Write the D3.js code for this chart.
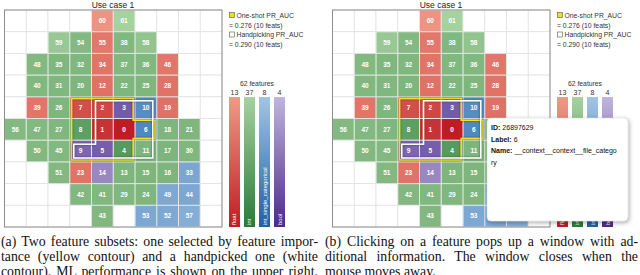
<!DOCTYPE html>
<html>
<head>
<meta charset="utf-8">
<script src="https://cdn.jsdelivr.net/npm/d3@7"></script>
<style>
body { margin: 0; background: #fff; }
svg { display: block; }
</style>
</head>
<body>
<script>
// feature ids laid out on the 10x10 grid (null = empty cell)
const gridIds = [
	[null, null, null, null, 60, 61, null, null, null, null],
	[null, null, 59, 54, 55, 38, 58, null, null, null],
	[null, 48, 35, 32, 34, 37, 36, 46, null, null],
	[null, 40, 31, 20, 12, 22, 25, 28, null, null],
	[null, 39, 26, 7, 2, 3, 10, 19, null, null],
	[56, 47, 27, 8, 1, 0, 6, 18, 21, null],
	[null, 50, 45, 9, 5, 4, 11, 17, 30, null],
	[null, null, 51, 23, 14, 13, 15, 16, 33, null],
	[null, null, null, 42, 41, 29, 24, 49, 44, null],
	[null, null, null, null, 43, null, 53, 52, 57, null]
];
const floatIds = [0, 1, 2, 7, 12, 19, 23, 28, 34, 39, 46, 55, 60];
const catIds = [6, 10, 33, 44, 49, 52, 53, 57];
const boolIds = [3, 5, 9, 14];
const typeNames = ['float', 'int', 'int_single_categorical', 'bool'];
const typeCounts = [13, 37, 8, 4];
const oneShotIds = [0, 1, 2, 3, 4, 5, 6, 7, 8, 9];
const handpickIds = [0, 1, 2, 3, 4, 5, 6, 9, 10, 11];
const legendLines = ['One-shot PR_AUC', '= 0.276 (10 feats)', 'Handpicking PR_AUC', '= 0.290 (10 feats)'];
const tooltipKeys = ['ID:', 'Label:', 'Name:', ''];
const tooltipValues = ['26897629', '6', '__context__context__file_catego', 'ry'];
const captionA = [
	'(a)  Two feature subsets: one selected by feature impor-',
	'tance (yellow contour) and a handpicked one (white',
	'contour). ML performance is shown on the upper right.'
];
const captionB = [
	'(b) Clicking on a feature pops up a window with ad-',
	'ditional information.  The window closes when the',
	'mouse moves away.'
];

const SANS = '"Liberation Sans", Arial, sans-serif';
const SERIF = '"Liberation Serif", "Times New Roman", serif';

//popup box of panel (b)
const tipBox = {x: 487, y: 118, w: 141, h: 103};

//dark / light end of each type colour
const palette = {
	'float': ['#be1e23', '#f5a893'],
	'int': ['#2a7a38', '#b4dcaa'],
	'int_single_categorical': ['#1f5fa8', '#b0d0ea'],
	'bool': ['#4b2a8c', '#cdc4e6']
};
//importance rank -> lightness
const rankT = d3.scaleLinear()
	.domain([0, 2, 10, 11, 56, 61])
	.range([0, 0.3, 0.4, 0.6, 0.65, 0.9])
	.clamp(true);

function typeOf(id) {
	if (floatIds.includes(id)) return 'float';
	if (catIds.includes(id)) return 'int_single_categorical';
	if (boolIds.includes(id)) return 'bool';
	return 'int';
}
function cellColor(id) {
	let p = palette[typeOf(id)];
	return d3.interpolateRgb(p[0], p[1])(rankT(id));
}

let svg = d3.select('body').append('svg')
	.attr('width', 640)
	.attr('height', 275);

let defs = svg.append('defs');
defs.append('filter').attr('id', 'lineShadow')
	.attr('x', '-20%').attr('y', '-20%').attr('width', '140%').attr('height', '140%')
	.append('feDropShadow')
	.attr('dx', 0).attr('dy', 0).attr('stdDeviation', 1.2)
	.attr('flood-color', '#000').attr('flood-opacity', 0.45);
defs.append('filter').attr('id', 'tipShadow')
	.attr('x', '-20%').attr('y', '-20%').attr('width', '140%').attr('height', '140%')
	.append('feDropShadow')
	.attr('dx', 1).attr('dy', 1.5).attr('stdDeviation', 2)
	.attr('flood-color', '#000').attr('flood-opacity', 0.35);
typeNames.forEach(function(t, i) {
	let g = defs.append('linearGradient').attr('id', 'grad' + i)
		.attr('x1', 0).attr('y1', 0).attr('x2', 0).attr('y2', 1);
	g.append('stop').attr('offset', '0%').attr('stop-color', d3.interpolateRgb(palette[t][0], palette[t][1])(0.9));
	g.append('stop').attr('offset', '100%').attr('stop-color', palette[t][0]);
});

//outline of a set of cells, pushed inward by d pixels
function contourPath(ids, x, y, d) {
	let pos = {};
	gridIds.forEach(function(row, r) {
		row.forEach(function(id, c) {
			if (id !== null && ids.includes(id)) pos[r + ',' + c] = true;
		});
	});
	let edges = {};
	Object.keys(pos).forEach(function(k) {
		let [r, c] = k.split(',').map(Number);
		if (!pos[(r - 1) + ',' + c]) edges[c + ',' + r] = [c + 1, r];
		if (!pos[r + ',' + (c + 1)]) edges[(c + 1) + ',' + r] = [c + 1, r + 1];
		if (!pos[(r + 1) + ',' + c]) edges[(c + 1) + ',' + (r + 1)] = [c, r + 1];
		if (!pos[r + ',' + (c - 1)]) edges[c + ',' + (r + 1)] = [c, r];
	});
	let start = Object.keys(edges)[0];
	let pts = [start.split(',').map(Number)];
	let cur = start;
	while (true) {
		let nxt = edges[cur];
		let key = nxt[0] + ',' + nxt[1];
		if (key === start) break;
		pts.push(nxt);
		cur = key;
	}
	//keep only corners
	let n = pts.length;
	let corners = pts.filter(function(p, i) {
		let a = pts[(i - 1 + n) % n], b = pts[(i + 1) % n];
		return (p[0] - a[0]) * (b[1] - p[1]) - (p[1] - a[1]) * (b[0] - p[0]) !== 0;
	});
	let cw = x.bandwidth(), ch = y.bandwidth();
	let x0 = x.range()[0], y0 = y.range()[0];
	n = corners.length;
	let out = corners.map(function(p, i) {
		let a = corners[(i - 1 + n) % n], b = corners[(i + 1) % n];
		let dIn = [Math.sign(p[0] - a[0]), Math.sign(p[1] - a[1])];
		let dOut = [Math.sign(b[0] - p[0]), Math.sign(b[1] - p[1])];
		let nx = -dIn[1] - dOut[1], ny = dIn[0] + dOut[0];
		return [x0 + p[0] * cw + d * nx, y0 + p[1] * ch + d * ny];
	});
	return d3.line()(out) + 'Z';
}

function drawPanel(ox, hidden) {
	let g = svg.append('g').attr('transform', 'translate(' + ox + ',0)');
	let x = d3.scaleBand().domain(d3.range(10)).range([4.5, 222]);
	let y = d3.scaleBand().domain(d3.range(10)).range([10, 227]);
	//labels that would sit under the popup are not drawn
	let covered = function(px, py) {
		return hidden && px + ox > hidden.x && px + ox < hidden.x + hidden.w
			&& py > hidden.y && py < hidden.y + hidden.h;
	};

	g.append('text')
		.attr('x', 113).attr('y', 7.5)
		.attr('text-anchor', 'middle')
		.style('font', '8.5px ' + SANS)
		.attr('fill', '#222')
		.text('Use case 1');

	let cells = [];
	gridIds.forEach(function(row, r) {
		row.forEach(function(id, c) { cells.push({r: r, c: c, id: id}); });
	});

	//empty grid
	g.append('g').selectAll('rect').data(cells).join('rect')
		.attr('x', d => x(d.c)).attr('y', d => y(d.r))
		.attr('width', x.bandwidth()).attr('height', y.bandwidth())
		.attr('fill', '#fff').attr('stroke', '#e2e2e2').attr('stroke-width', 0.8);

	let filled = cells.filter(d => d.id !== null);
	g.append('g').selectAll('rect').data(filled).join('rect')
		.attr('x', d => x(d.c) + 0.5).attr('y', d => y(d.r) + 0.5)
		.attr('width', x.bandwidth() - 1).attr('height', y.bandwidth() - 1)
		.attr('fill', d => cellColor(d.id));

	let shown = filled.filter(d => !covered(x(d.c) + x.bandwidth() / 2, y(d.r) + y.bandwidth() / 2));
	g.append('g').selectAll('text').data(shown).join('text')
		.attr('x', d => x(d.c) + x.bandwidth() / 2)
		.attr('y', d => y(d.r) + y.bandwidth() / 2 + 2.3)
		.attr('text-anchor', 'middle')
		.attr('fill', '#fff')
		.style('font', 'bold 6.5px ' + SANS)
		.text(d => d.id);

	g.append('rect')
		.attr('x', 4.5).attr('y', 10).attr('width', 217.5).attr('height', 217)
		.attr('fill', 'none').attr('stroke', '#8e8e8e').attr('stroke-width', 1);

	//contours
	g.append('path')
		.attr('d', contourPath(oneShotIds, x, y, 1.8))
		.attr('fill', 'none').attr('stroke', '#f0e21a').attr('stroke-width', 1.5)
		.attr('filter', 'url(#lineShadow)');
	g.append('path')
		.attr('d', contourPath(handpickIds, x, y, 4))
		.attr('fill', 'none').attr('stroke', '#fff').attr('stroke-width', 1.5)
		.attr('filter', 'url(#lineShadow)');

	//legend
	let lg = g.append('g').style('font', '6.8px ' + SANS).attr('fill', '#333');
	lg.append('rect').attr('x', 229.5).attr('y', 12.5).attr('width', 5).attr('height', 5)
		.attr('fill', '#ece21c').attr('stroke', '#555').attr('stroke-width', 0.6);
	lg.append('rect').attr('x', 229.5).attr('y', 32).attr('width', 5).attr('height', 5)
		.attr('fill', '#fff').attr('stroke', '#555').attr('stroke-width', 0.6);
	lg.selectAll('text').data(legendLines).join('text')
		.attr('x', (d, i) => i % 2 === 0 ? 236.5 : 229)
		.attr('y', (d, i) => [17.8, 27.8, 37.3, 47.3][i])
		.text(d => d);

	//type bars
	let bx = d3.scaleBand().domain(typeNames).range([229, 285]).paddingInner(0.267);
	let bg = g.append('g');
	bg.append('text')
		.attr('x', 257).attr('y', 85.5)
		.attr('text-anchor', 'middle')
		.style('font', '6.8px ' + SANS).attr('fill', '#333')
		.text(d3.sum(typeCounts) + ' features');
	bg.selectAll('text.cnt').data(typeNames).join('text')
		.attr('class', 'cnt')
		.attr('x', d => bx(d) + bx.bandwidth() / 2).attr('y', 94.5)
		.attr('text-anchor', 'middle')
		.style('font', '7px ' + SANS).attr('fill', '#333')
		.text((d, i) => typeCounts[i]);
	bg.selectAll('rect').data(typeNames).join('rect')
		.attr('x', d => bx(d)).attr('y', 97)
		.attr('width', bx.bandwidth()).attr('height', 130)
		.attr('fill', (d, i) => 'url(#grad' + i + ')');
	bg.selectAll('text.lbl').data(typeNames).join('text')
		.attr('class', 'lbl')
		.attr('transform', d => 'translate(' + (bx(d) + bx.bandwidth() / 2 + 2) + ',225) rotate(-90)')
		.style('font', '6px ' + SANS).attr('fill', '#fff')
		.text(d => d);
	return g;
}

//justified caption line
function captionLine(txt, x, yy, width, justify) {
	let t = svg.append('text')
		.attr('x', x).attr('y', yy)
		.attr('font-family', SERIF)
		.attr('font-size', 13.8)
		.attr('fill', '#111')
		.text(txt);
	if (justify) {
		let natural = t.node().getComputedTextLength();
		let spaces = txt.replace(/ +/g, ' ').split(' ').length - 1;
		t.attr('word-spacing', (width - natural) / spaces);
	}
}

drawPanel(0, null);
drawPanel(328, tipBox);

//popup window on the right panel
let tip = svg.append('g');
tip.append('rect')
	.attr('x', tipBox.x).attr('y', tipBox.y).attr('width', tipBox.w).attr('height', tipBox.h).attr('rx', 4)
	.attr('fill', '#fff').attr('stroke', '#d0d0d0').attr('stroke-width', 0.5)
	.attr('filter', 'url(#tipShadow)');
let tipY = [129.5, 141.5, 153, 164.5];
tooltipKeys.forEach(function(k, i) {
	let w = 0;
	if (k) {
		let kt = tip.append('text')
			.attr('x', 491).attr('y', tipY[i])
			.style('font', 'bold 7px ' + SANS).attr('fill', '#111')
			.text(k);
		w = kt.node().getComputedTextLength() + 2;
	}
	tip.append('text')
		.attr('x', 491 + w).attr('y', tipY[i])
		.style('font', '7px ' + SANS).attr('fill', '#111')
		.text(tooltipValues[i]);
});

captionA.forEach((s, i) => captionLine(s, 1, 246.3 + i * 15, 317, true));
captionB.forEach((s, i) => captionLine(s, 325, 246.3 + i * 15, 313, i < 2));
</script>
</body>
</html>
